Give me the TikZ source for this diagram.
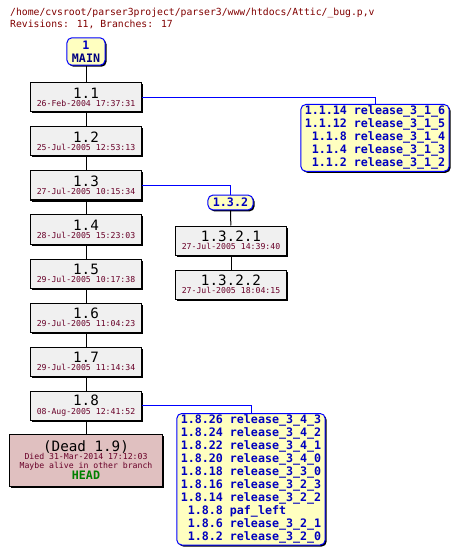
\documentclass[tikz,border=0pt]{standalone}
\usepackage{fontspec}
\usepackage{tikz}
\usetikzlibrary{shadows}

\newfontfamily\cvsfont{DejaVu Sans Mono}
\definecolor{titlered}{RGB}{128,0,0}
\definecolor{datered}{RGB}{104,0,40}
\definecolor{tagblue}{RGB}{0,0,190}
\definecolor{mainblue}{RGB}{0,0,128}
\definecolor{branchblue}{RGB}{0,0,255}
\definecolor{revgray}{RGB}{240,240,240}
\definecolor{tagyellow}{RGB}{255,255,192}
\definecolor{deadpink}{RGB}{224,192,192}
\definecolor{headgreen}{RGB}{0,128,0}

\newcommand{\revtxt}{\cvsfont\fontsize{14.3}{15}\selectfont\color{black}}
\newcommand{\datetxt}{\cvsfont\fontsize{8.2}{8.4}\selectfont\color{datered}}
\newcommand{\tagtxt}{\cvsfont\bfseries\fontsize{11.7}{13}\selectfont}

\tikzset{
  boxshadow/.style={drop shadow={shadow xshift=1.5bp, shadow yshift=-1.5bp, fill=black, opacity=1}},
  revbox/.style={draw, line width=1bp, fill=revgray, minimum width=111bp, minimum height=29bp, inner sep=0pt, align=center, font=\datetxt, boxshadow},
  deadbox/.style={revbox, fill=deadpink, minimum width=152bp, minimum height=52bp},
  branchbox/.style={draw=branchblue, line width=1bp, fill=tagyellow, rounded corners=5bp, inner xsep=5bp, inner ysep=3bp, align=center, font=\tagtxt, text=tagblue, boxshadow},
  tagbox/.style={branchbox, inner xsep=4bp, inner ysep=1bp},
  trunk/.style={line width=1bp, black},
  branchline/.style={line width=1bp, color=branchblue},
  headline/.style={anchor=base west, inner sep=0pt, text=titlered, font=\cvsfont\fontsize{9.8}{12}\selectfont}
}

\begin{document}
\begin{tikzpicture}[x=1bp,y=1bp,yscale=-1,xscale=1]
\useasboundingbox (0,0) rectangle (460,558);

% Text Node
\node[headline] (path) at (10,16) {/home/cvsroot/parser3project/parser3/www/htdocs/Attic/\_bug.p,v};
% Text Node
\node[headline] (stats) at (10,28) {Revisions: 11, Branches: 17};

% Branch: MAIN
\node[branchbox] (main) at (86,51.5) {1\\\color{mainblue}MAIN};

% Revisions on the trunk
\node[revbox] (r11) at (86,97.5) {{\revtxt 1.1}\\26-Feb-2004 17:37:31};
\node[revbox] (r12) at (86,141.5) {{\revtxt 1.2}\\25-Jul-2005 12:53:13};
\node[revbox] (r13) at (86,185.5) {{\revtxt 1.3}\\27-Jul-2005 10:15:34};
\node[revbox] (r14) at (86,229.5) {{\revtxt 1.4}\\28-Jul-2005 15:23:03};
\node[revbox] (r15) at (86,273.5) {{\revtxt 1.5}\\29-Jul-2005 10:17:38};
\node[revbox] (r16) at (86,317.5) {{\revtxt 1.6}\\29-Jul-2005 11:04:23};
\node[revbox] (r17) at (86,361.5) {{\revtxt 1.7}\\29-Jul-2005 11:14:34};
\node[revbox] (r18) at (86,405.5) {{\revtxt 1.8}\\08-Aug-2005 12:41:52};
\node[deadbox] (dead) at (86,460) {{\revtxt (Dead 1.9)}\\Died 31-Mar-2014 17:12:03\\Maybe alive in other branch\\{\tagtxt\color{headgreen}HEAD}};

% Tags of 1.1
\node[tagbox, anchor=north] (t11) at (375,104) {\begin{tabular}{@{}r@{\ }l@{}}
1.1.14 & release\_3\_1\_6\\
1.1.12 & release\_3\_1\_5\\
1.1.8 & release\_3\_1\_4\\
1.1.4 & release\_3\_1\_3\\
1.1.2 & release\_3\_1\_2
\end{tabular}};

% Branch 1.3.2
\node[branchbox] (b132) at (230.5,202.5) {1.3.2};
\node[revbox] (r1321) at (231,240.5) {{\revtxt 1.3.2.1}\\27-Jul-2005 14:39:40};
\node[revbox] (r1322) at (231,284.5) {{\revtxt 1.3.2.2}\\27-Jul-2005 18:04:15};

% Tags of 1.8
\node[tagbox, anchor=north] (t18) at (251,413) {\begin{tabular}{@{}r@{\ }l@{}}
1.8.26 & release\_3\_4\_3\\
1.8.24 & release\_3\_4\_2\\
1.8.22 & release\_3\_4\_1\\
1.8.20 & release\_3\_4\_0\\
1.8.18 & release\_3\_3\_0\\
1.8.16 & release\_3\_2\_3\\
1.8.14 & release\_3\_2\_2\\
1.8.8 & paf\_left\\
1.8.6 & release\_3\_2\_1\\
1.8.2 & release\_3\_2\_0
\end{tabular}};

% Straight Lines
\draw[trunk] (main) -- (r11);
\draw[trunk] (r11) -- (r12);
\draw[trunk] (r12) -- (r13);
\draw[trunk] (r13) -- (r14);
\draw[trunk] (r14) -- (r15);
\draw[trunk] (r15) -- (r16);
\draw[trunk] (r16) -- (r17);
\draw[trunk] (r17) -- (r18);
\draw[trunk] (r18) -- (dead);
\draw[trunk] (b132) -- (r1321);
\draw[trunk] (r1321) -- (r1322);
\draw[branchline] (r11.east) -| (t11.north);
\draw[branchline] (r13.east) -| (b132.north);
\draw[branchline] (r18.east) -| (t18.north);
\end{tikzpicture}
\end{document}
